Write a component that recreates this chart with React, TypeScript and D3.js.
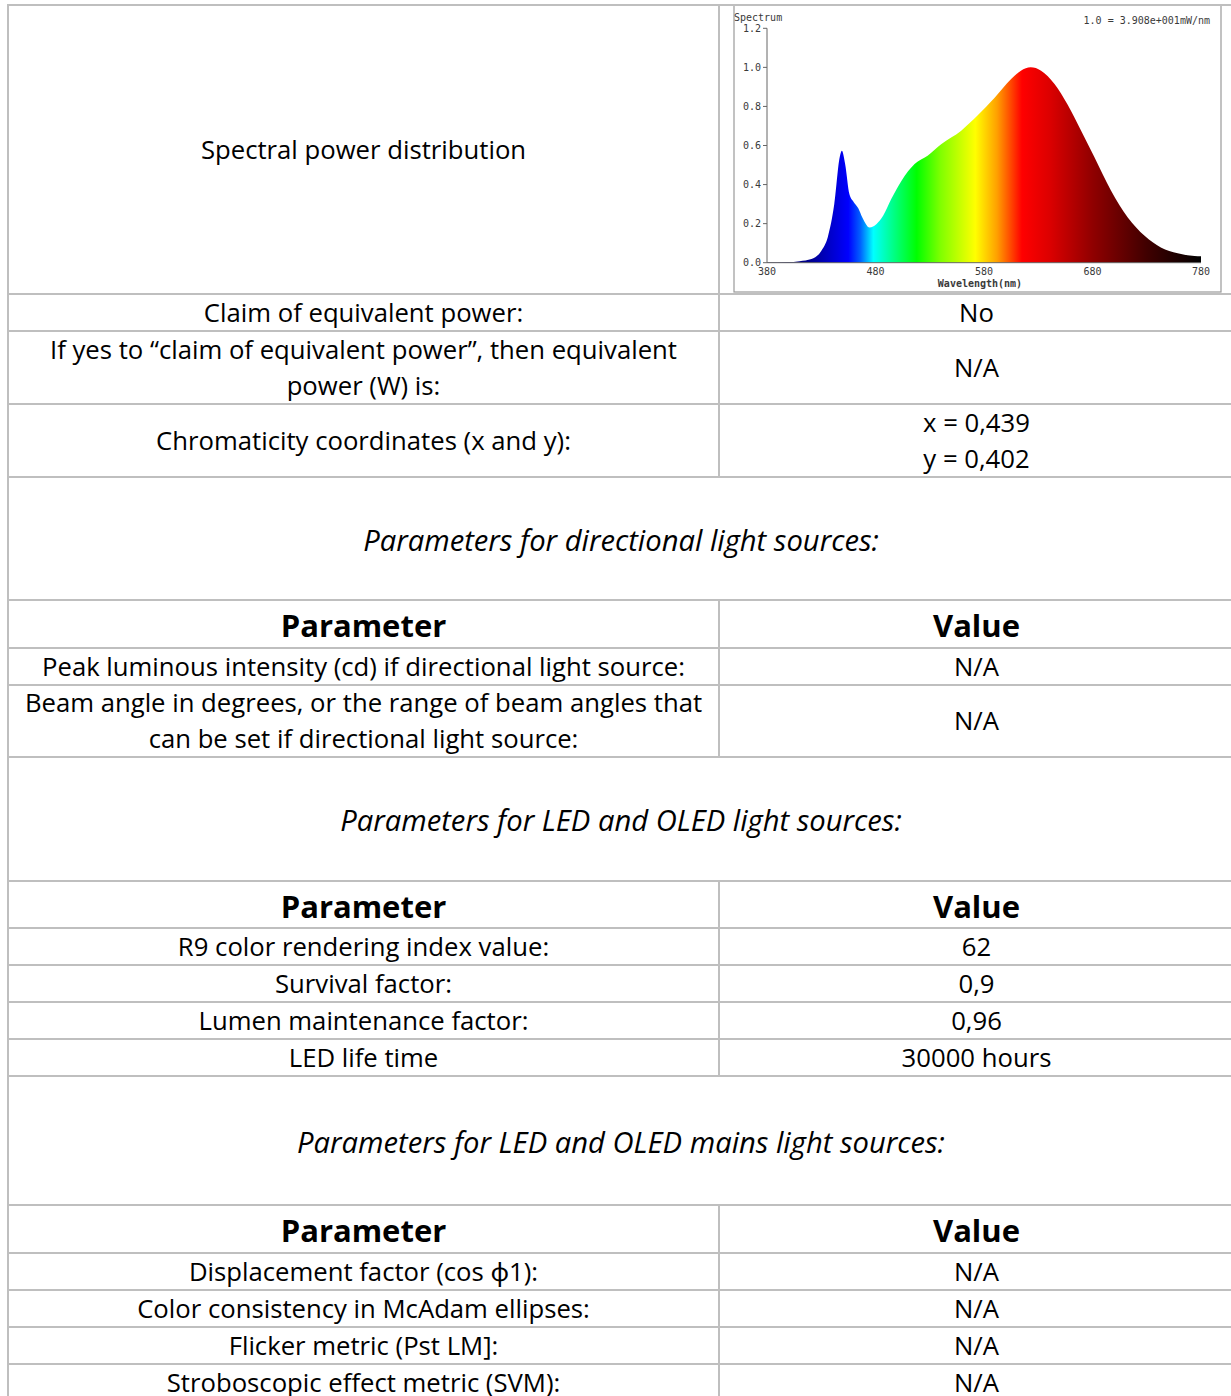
import React from 'react';
import * as d3 from 'd3';

// spectrum (nm, relative power)
const wavelengths = [380, 399, 410, 421, 430, 436, 442, 447, 449, 452, 456, 460, 464, 468, 474.5, 481, 487, 494.5, 504, 516, 528, 540.5, 559, 574, 590, 605, 614, 623, 632.6, 645, 657, 669.5, 681.8, 697, 712.5, 728, 743, 758.5, 774, 780];
const spdValues = [0.002, 0.003, 0.008, 0.019, 0.06, 0.13, 0.3, 0.54, 0.573, 0.505, 0.35, 0.31, 0.28, 0.23, 0.18, 0.198, 0.24, 0.326, 0.42, 0.505, 0.548, 0.607, 0.676, 0.753, 0.846, 0.94, 0.983, 1.0, 0.983, 0.915, 0.81, 0.676, 0.54, 0.37, 0.232, 0.138, 0.078, 0.048, 0.034, 0.033];

const colorStops: [number, string][] = [
  [380, '#000050'], [420, '#000090'], [440, '#0000d0'], [455, '#0000ff'], [466, '#0060ff'],
  [478, '#00ffff'], [495, '#00ff90'], [518, '#00ff00'], [540, '#80ff00'], [572, '#ffff00'],
  [592, '#ffa000'], [615, '#ff0000'], [640, '#dd0000'], [680, '#900000'], [730, '#400000'], [780, '#000000'],
];

const xTicks = [380, 480, 580, 680, 780];
const yTicks = [0, 0.2, 0.4, 0.6, 0.8, 1.0, 1.2];

type Row =
  | { kind: 'chart'; left: string[] }
  | { kind: 'pair'; left: string[]; right: string[] }
  | { kind: 'section'; title: string }
  | { kind: 'header' };

const rows: Row[] = [
  { kind: 'chart', left: ['Spectral power distribution'] },
  { kind: 'pair', left: ['Claim of equivalent power:'], right: ['No'] },
  { kind: 'pair', left: ['If yes to \u201Cclaim of equivalent power\u201D, then equivalent', 'power (W) is:'], right: ['N/A'] },
  { kind: 'pair', left: ['Chromaticity coordinates (x and y):'], right: ['x = 0,439', 'y = 0,402'] },
  { kind: 'section', title: 'Parameters for directional light sources:' },
  { kind: 'header' },
  { kind: 'pair', left: ['Peak luminous intensity (cd) if directional light source:'], right: ['N/A'] },
  { kind: 'pair', left: ['Beam angle in degrees, or the range of beam angles that', 'can be set if directional light source:'], right: ['N/A'] },
  { kind: 'section', title: 'Parameters for LED and OLED light sources:' },
  { kind: 'header' },
  { kind: 'pair', left: ['R9 color rendering index value:'], right: ['62'] },
  { kind: 'pair', left: ['Survival factor:'], right: ['0,9'] },
  { kind: 'pair', left: ['Lumen maintenance factor:'], right: ['0,96'] },
  { kind: 'pair', left: ['LED life time'], right: ['30000 hours'] },
  { kind: 'section', title: 'Parameters for LED and OLED mains light sources:' },
  { kind: 'header' },
  { kind: 'pair', left: ['Displacement factor (cos \u03D51):'], right: ['N/A'] },
  { kind: 'pair', left: ['Color consistency in McAdam ellipses:'], right: ['N/A'] },
  { kind: 'pair', left: ['Flicker metric (Pst LM]:'], right: ['N/A'] },
  { kind: 'pair', left: ['Stroboscopic effect metric (SVM):'], right: ['N/A'] },
];

// layout
const rowHeights = [289, 37, 73, 73, 123, 48, 37, 72, 124, 47, 37, 37, 37, 37, 129, 48, 37, 37, 37, 37];
const W = 1231;
const H = 1396;
const tableTop = 5;
const tableLeft = 8;
const tableRight = 1234;
const colSplit = 719;
const lineColor = '#bfbfbf';
const font = '"Open Sans", "Noto Sans", sans-serif';
const fs = 25.7;
const lineGap = 36;

const leftC = (tableLeft + colSplit) / 2;
const rightC = (colSplit + tableRight) / 2;
const midC = (tableLeft + tableRight) / 2;

const Lines = ({ lines, x, cy, size = fs, weight = 400, italic = false }: any) => (
  <>
    {lines.map((t: string, i: number) => (
      <text key={i} x={x} y={cy + (i - (lines.length - 1) / 2) * lineGap} dy="0.36em"
        textAnchor="middle" fontFamily={font} fontSize={size} fontWeight={weight}
        fontStyle={italic ? 'italic' : 'normal'} fill="#000">{t}</text>
    ))}
  </>
);

const Spectrum = () => {
  const box = { x: 734, y: 5, w: 487, h: 287 };
  const x = d3.scaleLinear().domain([380, 780]).range([767, 1201]);
  const y = d3.scaleLinear().domain([0, 1.2]).range([262.7, 28.3]);
  const pts = wavelengths.map((w, i) => [w, spdValues[i]] as [number, number]);
  const area = d3.area<[number, number]>()
    .x(d => x(d[0]))
    .y0(y(0))
    .y1(d => y(d[1]))
    .curve(d3.curveMonotoneX);
  const mono = '"DejaVu Sans Mono", "Liberation Mono", monospace';
  const ink = '#3a3a3a';
  return (
    <g>
      <defs>
        <linearGradient id="spec" gradientUnits="userSpaceOnUse" x1={x(380)} x2={x(780)} y1={0} y2={0}>
          {colorStops.map(([w, c], i) => (
            <stop key={i} offset={(w - 380) / 400} stopColor={c} />
          ))}
        </linearGradient>
      </defs>
      <rect x={box.x} y={box.y} width={box.w} height={box.h} fill="#fff" stroke="#9a9a9a" strokeWidth={1.2} />
      <path d={area(pts) || ''} fill="url(#spec)" />
      <line x1={x(380)} x2={x(380)} y1={y(1.2)} y2={y(0)} stroke="#666" />
      <line x1={x(380)} x2={x(780)} y1={y(0)} y2={y(0)} stroke="#666" />
      {yTicks.map(t => (
        <g key={t}>
          <line x1={x(380) - 4} x2={x(380)} y1={y(t)} y2={y(t)} stroke="#666" />
          <text x={x(380) - 6} y={y(t)} dy="0.35em" textAnchor="end" fontFamily={mono} fontSize={10} fill={ink}>{t.toFixed(1)}</text>
        </g>
      ))}
      {xTicks.map(t => (
        <text key={t} x={x(t)} y={271.5} dy="0.35em" textAnchor="middle" fontFamily={mono} fontSize={10} fill={ink}>{t}</text>
      ))}
      <text x={980} y={283} dy="0.35em" textAnchor="middle" fontFamily={mono} fontSize={10} fontWeight={700} fill={ink}>Wavelength(nm)</text>
      <text x={734} y={17} dy="0.35em" fontFamily={mono} fontSize={10} fill={ink}>Spectrum</text>
      <text x={1210} y={20} dy="0.35em" textAnchor="end" fontFamily={mono} fontSize={10} fill={ink}>1.0 = 3.908e+001mW/nm</text>
    </g>
  );
};

export default function App() {
  const tops: number[] = [];
  let acc = tableTop;
  rowHeights.forEach(h => { tops.push(acc); acc += h; });

  return (
    <svg width={W} height={H} style={{ position: 'absolute', left: 0, top: 0, background: '#fff' }}>
      <rect width={W} height={H} fill="#fff" />
      {rows.map((r, i) => {
        const top = tops[i];
        const cy = top + rowHeights[i] / 2;
        if (r.kind === 'section') {
          return <Lines key={i} lines={[r.title]} x={midC} cy={cy + 1.5} size={29.2} italic />;
        }
        if (r.kind === 'header') {
          return (
            <g key={i}>
              <Lines lines={['Parameter']} x={leftC} cy={cy + 2} size={31} weight={700} />
              <Lines lines={['Value']} x={rightC} cy={cy + 2} size={31} weight={700} />
            </g>
          );
        }
        if (r.kind === 'chart') {
          return <Lines key={i} lines={r.left} x={leftC} cy={150} />;
        }
        return (
          <g key={i}>
            <Lines lines={r.left} x={leftC} cy={cy} />
            <Lines lines={r.right} x={rightC} cy={cy} />
          </g>
        );
      })}
      <Spectrum />
      {/* grid lines */}
      {[...tops, acc].map((t, i) => (
        <line key={'h' + i} x1={tableLeft - 1} x2={tableRight} y1={t} y2={t} stroke={lineColor} strokeWidth={2} />
      ))}
      <line x1={tableLeft} x2={tableLeft} y1={tableTop} y2={acc} stroke={lineColor} strokeWidth={2} />
      {rows.map((r, i) => r.kind === 'section' ? null : (
        <line key={'v' + i} x1={colSplit} x2={colSplit} y1={tops[i]} y2={tops[i] + rowHeights[i]} stroke={lineColor} strokeWidth={2} />
      ))}
    </svg>
  );
}
